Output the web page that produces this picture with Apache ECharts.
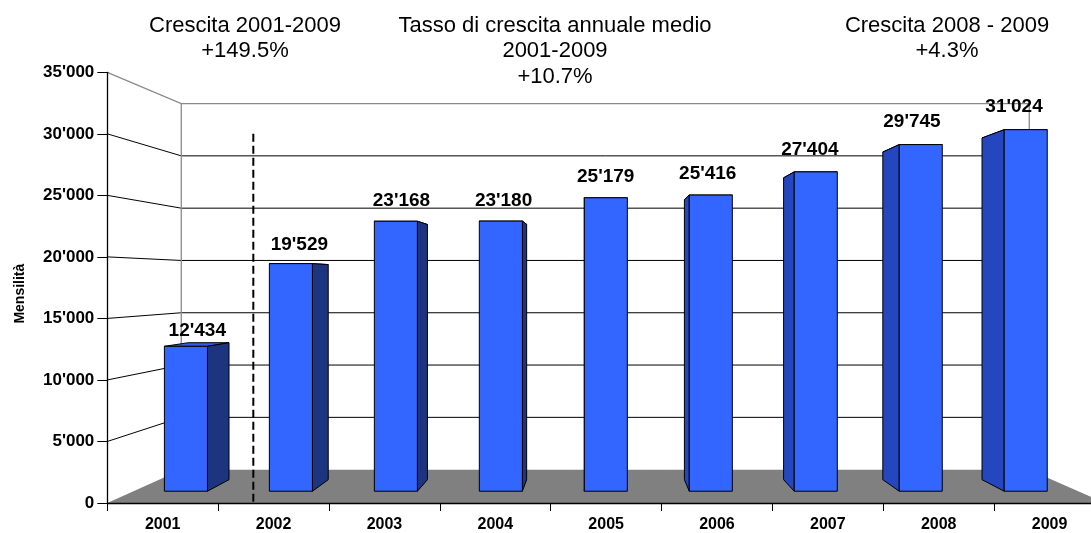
<!DOCTYPE html>
<html><head><meta charset="utf-8">
<script src="https://cdn.jsdelivr.net/npm/echarts@6/dist/echarts.min.js"></script>
<style>html,body{margin:0;padding:0;background:#fff;overflow:hidden;width:1091px;height:533px}#c{width:1130px;height:533px}</style>
</head><body><div id="c"></div>
<script>
// ---- data ----
const years = ['2001','2002','2003','2004','2005','2006','2007','2008','2009'];
const values = [12434, 19529, 23168, 23180, 25179, 25416, 27404, 29745, 31024];
const titleLeft = ['Crescita 2001-2009', '+149.5%'];
const titleMid = ['Tasso di crescita annuale medio', '2001-2009', '+10.7%'];
const titleRight = ['Crescita 2008 - 2009', '+4.3%'];
const yAxisName = 'Mensilità';
const yMax = 35000, yStep = 5000;
const markerValue = 30000; // top of dashed separator

// ---- perspective / style parameters ----
const FONT = '"Liberation Sans", Arial, Helvetica, sans-serif';
const VP_CAT = 3.948, VP_VAL = 18065;
const S_BACK = 0.85, S_BAR_FRONT = 0.947, S_BAR_BACK = 0.895;
const S_LABEL_X = 0.921, S_LABEL_Y = 0.98, S_MARK = 0.908;
const HALF_W = 0.205;

function fmt(n){ return String(n).replace(/\B(?=(\d{3})+(?!\d))/g, "'"); }

function makeGeo(api){
  const c0 = api.coord([0, 0]);
  const bw = api.size([1, 0])[0];
  const front = (cat, v) => [c0[0] + cat * bw, api.coord([0, v])[1]];
  const vp = front(VP_CAT, VP_VAL);
  const proj = (p, s) => [vp[0] + (p[0] - vp[0]) * s, vp[1] + (p[1] - vp[1]) * s];
  return {front, proj, vp};
}

function renderBackground(params, api){
  const g = makeGeo(api);
  const L = -0.5, R = years.length - 0.5;
  const ch = [];
  const fl = g.front(L, 0), fr = g.front(R, 0);
  const bl = g.proj(fl, S_BACK), br = g.proj(fr, S_BACK);
  ch.push({type:'polygon', shape:{points:[fl, fr, br, bl]}, style:{fill:'#808080', stroke:null}});
  for (let v = yStep; v < yMax; v += yStep){
    const a = g.front(L, v), b = g.proj(a, S_BACK), c = g.proj(g.front(R, v), S_BACK);
    ch.push({type:'polyline', shape:{points:[a, b, c]}, style:{stroke:'#000', lineWidth:1, fill:null}});
  }
  const ta = g.front(L, yMax), tb = g.proj(ta, S_BACK), tc = g.proj(g.front(R, yMax), S_BACK);
  ch.push({type:'polyline', shape:{points:[ta, tb, tc, br]}, style:{stroke:'#8a8a8a', lineWidth:1.3, fill:null}});
  ch.push({type:'line', shape:{x1:tb[0], y1:tb[1], x2:bl[0], y2:bl[1]}, style:{stroke:'#8a8a8a', lineWidth:1.3}});
  const dx = g.proj(g.front(0.5, 0), S_MARK)[0];
  ch.push({type:'line', shape:{x1:dx, y1:g.front(0, markerValue)[1], x2:dx, y2:g.front(0, 0)[1]},
           style:{stroke:'#000', lineWidth:2, lineDash:[8, 4]}});
  return {type:'group', children:ch};
}

function renderBar(params, api){
  const g = makeGeo(api);
  const i = api.value(0), v = api.value(1);
  const tl = g.front(i - HALF_W, v), tr = g.front(i + HALF_W, v);
  const bl = g.front(i - HALF_W, 0), br = g.front(i + HALF_W, 0);
  const F = S_BAR_FRONT, B = S_BAR_BACK, P = g.proj;
  const st = {stroke:'#000', lineWidth:1, lineJoin:'round'};
  const ch = [];
  ch.push({type:'polygon', shape:{points:[P(tl,F), P(tr,F), P(tr,B), P(tl,B)]}, style:Object.assign({fill:'#2f5de9'}, st)});
  const cx = g.front(i, 0)[0];
  if (cx < g.vp[0]) {
    ch.push({type:'polygon', shape:{points:[P(tr,F), P(tr,B), P(br,B), P(br,F)]}, style:Object.assign({fill:'#1d347f'}, st)});
  } else {
    ch.push({type:'polygon', shape:{points:[P(tl,F), P(tl,B), P(bl,B), P(bl,F)]}, style:Object.assign({fill:'#2447c0'}, st)});
  }
  ch.push({type:'polygon', shape:{points:[P(tl,F), P(tr,F), P(br,F), P(bl,F)]}, style:Object.assign({fill:'#3366ff'}, st)});
  const top = g.front(i, v);
  const lx = P(top, S_LABEL_X)[0], ly = P(top, S_LABEL_Y)[1];
  ch.push({type:'text', style:{x:lx, y:ly - 18, text:fmt(v), fill:'#000',
           font:'bold 19px ' + FONT, textAlign:'center', textVerticalAlign:'middle', align:'center', verticalAlign:'middle'}});
  return {type:'group', children:ch};
}

function titleBlock(lines, x){
  return {type:'text', x:x, y:13, style:{text:lines.join('\n'), fill:'#000', font:'22px ' + FONT,
          lineHeight:25.5, textAlign:'center', textVerticalAlign:'top', align:'center', verticalAlign:'top'}};
}

const chart = echarts.init(document.getElementById('c'), null, {renderer:'canvas'});
chart.setOption({
  animation:false,
  backgroundColor:'#fff',
  grid:{left:107.3, top:72.3, width:997.65, height:433.4, containLabel:false},
  xAxis:{type:'category', data:years, boundaryGap:true, z:10,
    axisLine:{lineStyle:{color:'#000', width:1.3}},
    axisTick:{show:true, length:8, interval:0, lineStyle:{color:'#000', width:1}},
    axisLabel:{interval:0, margin:14, color:'#000', fontWeight:'bold', fontSize:16, fontFamily:FONT},
    splitLine:{show:false}},
  yAxis:{type:'value', min:0, max:yMax, interval:yStep, z:10,
    name:yAxisName, nameLocation:'middle', nameRotate:90, nameGap:80,
    nameTextStyle:{color:'#000', fontWeight:'bold', fontSize:14, fontFamily:FONT, padding:[0, 12, 0, 0]},
    axisLine:{show:true, lineStyle:{color:'#000', width:1.3}},
    axisTick:{show:true, length:10, lineStyle:{color:'#000', width:1}},
    axisLabel:{margin:13, color:'#000', fontWeight:'bold', fontSize:17, fontFamily:FONT, formatter:fmt},
    splitLine:{show:false}},
  graphic:[titleBlock(titleLeft, 245), titleBlock(titleMid, 555), titleBlock(titleRight, 947)],
  series:[
    {type:'custom', z:1, silent:true, renderItem:renderBackground, data:[[0, 0]], encode:{x:0, y:1}},
    {type:'custom', z:3, renderItem:renderBar, data:years.map((y, i) => [i, values[i]]), encode:{x:0, y:1}}
  ]
});
</script></body></html>
